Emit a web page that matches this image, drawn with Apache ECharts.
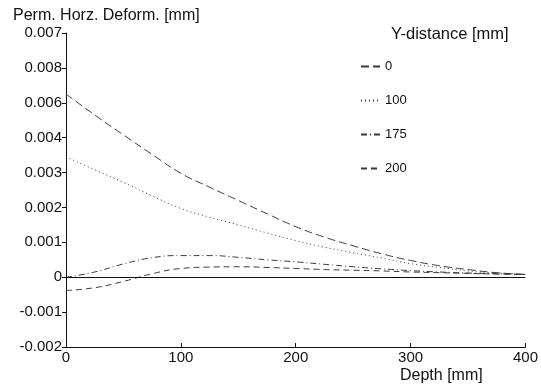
<!DOCTYPE html>
<html>
<head>
<meta charset="utf-8">
<script src="https://cdn.jsdelivr.net/npm/echarts@6/dist/echarts.min.js"></script>
<style>
  html, body { margin: 0; padding: 0; background: #fff; }
  #chart { width: 541px; height: 384px; }
</style>
</head>
<body>
<div id="chart"></div>
<script>
// depth along x [mm]
const depth = [0, 25, 50, 75, 100, 125, 150, 175, 200, 225, 250, 275, 300, 325, 350, 375, 400];

// perm. horizontal deformation, in 1e-3 mm
const y0   = [5.25, 4.65, 4.08, 3.52, 2.98, 2.58, 2.20, 1.82, 1.45, 1.15, 0.90, 0.67, 0.48, 0.33, 0.22, 0.13, 0.08];
const y100 = [3.45, 3.08, 2.72, 2.33, 1.97, 1.72, 1.50, 1.27, 1.05, 0.86, 0.70, 0.55, 0.39, 0.28, 0.18, 0.12, 0.08];
const y175 = [0.00, 0.15, 0.38, 0.56, 0.62, 0.62, 0.57, 0.50, 0.44, 0.37, 0.30, 0.24, 0.19, 0.15, 0.12, 0.10, 0.08];
const y200 = [-0.38, -0.30, -0.12, 0.10, 0.25, 0.29, 0.30, 0.28, 0.25, 0.22, 0.20, 0.18, 0.15, 0.13, 0.11, 0.09, 0.08];

const seriesNames = ['0', '100', '175', '200'];
// tick labels as printed on the original figure (bottom to top)
const yTickLabels = ['-0.002', '-0.001', '0', '0.001', '0.002', '0.003', '0.004', '0.006', '0.008', '0.007'];
const xTickLabels = ['0', '100', '200', '300', '400'];

const font = 'Liberation Sans, Arial, sans-serif';
const ink = '#111';
const lineCol = '#3a3a3a';

const toPts = arr => depth.map((d, i) => [d, arr[i] / 1000]);

const chart = echarts.init(document.getElementById('chart'));

const dashes = [
  [8, 4],
  [1, 3],
  [6, 3, 1, 3],
  [6, 4]
];
const allData = [y0, y100, y175, y200];

const series = allData.map((arr, i) => ({
  name: seriesNames[i],
  type: 'line',
  data: toPts(arr),
  smooth: 0.5,
  symbol: 'none',
  animation: false,
  lineStyle: {color: lineCol, width: 1, type: dashes[i]},
  itemStyle: {color: lineCol}
}));

// solid zero line across the plot
series[0].markLine = {
  silent: true,
  symbol: 'none',
  label: {show: false},
  lineStyle: {color: ink, width: 1, type: 'solid'},
  data: [{yAxis: 0}]
};

chart.setOption({
  backgroundColor: '#fff',
  animation: false,
  textStyle: {fontFamily: font},
  title: [
    {
      text: 'Perm. Horz. Deform. [mm]',
      left: 8, top: 3,
      textStyle: {fontFamily: font, fontSize: 16, fontWeight: 'normal', color: ink}
    },
    {
      text: 'Y-distance [mm]',
      left: 386, top: 21,
      textStyle: {fontFamily: font, fontSize: 16.5, fontWeight: 'normal', color: ink}
    },
    {
      text: 'Depth [mm]',
      left: 395, top: 363,
      textStyle: {fontFamily: font, fontSize: 16, fontWeight: 'normal', color: ink}
    }
  ],
  legend: {
    orient: 'vertical',
    left: 355, top: 55,
    itemWidth: 19, itemHeight: 10,
    itemGap: 21,
    itemStyle: {opacity: 0},
    data: seriesNames,
    textStyle: {fontFamily: font, fontSize: 13, color: ink}
  },
  grid: {left: 66, right: 12, top: 33, bottom: 37, containLabel: false},
  xAxis: {
    type: 'value',
    min: 0, max: 400, interval: 100,
    axisLine: {show: true, onZero: false, lineStyle: {color: ink, width: 1}},
    axisTick: {show: true, inside: true, length: 4, lineStyle: {color: ink}},
    axisLabel: {
      color: ink, fontSize: 15, fontFamily: font, margin: 3,
      formatter: v => xTickLabels[Math.round(v / 100)]
    },
    splitLine: {show: false}
  },
  yAxis: {
    type: 'value',
    min: -0.002, max: 0.007, interval: 0.001,
    axisLine: {show: true, onZero: false, lineStyle: {color: ink, width: 1}},
    axisTick: {show: true, length: 4, lineStyle: {color: ink}},
    axisLabel: {
      color: ink, fontSize: 15, fontFamily: font, margin: 4,
      formatter: v => yTickLabels[Math.round(v * 1000) + 2]
    },
    splitLine: {show: false}
  },
  series: series
});
</script>
</body>
</html>
